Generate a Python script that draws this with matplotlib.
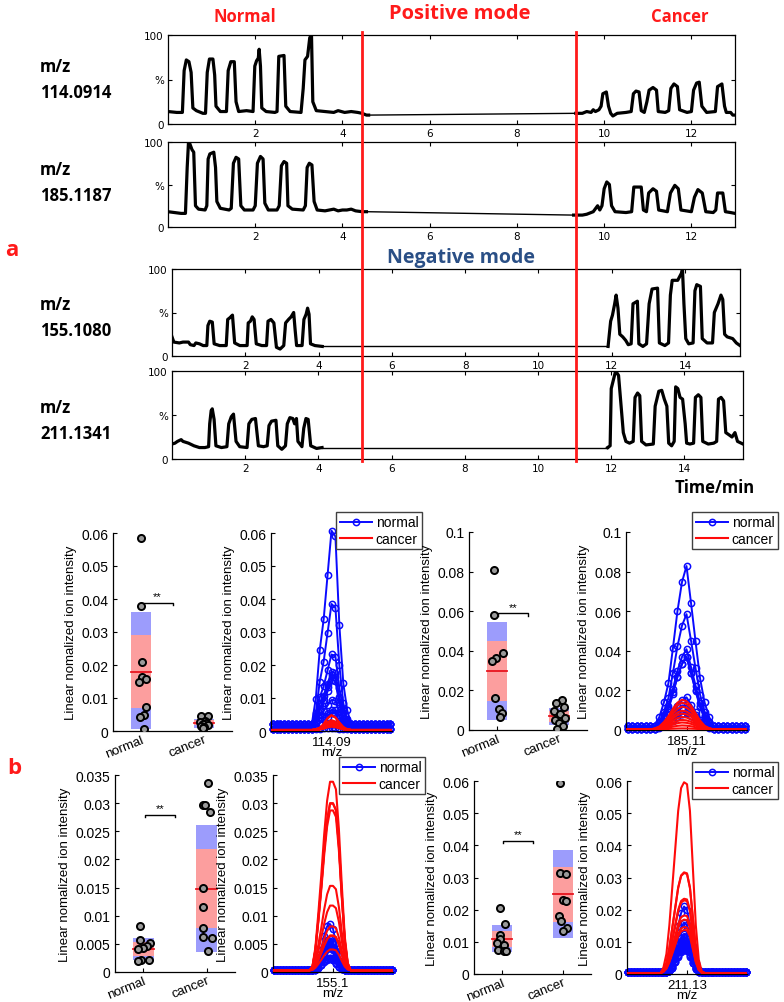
import matplotlib
matplotlib.use('Agg')
import matplotlib.pyplot as plt
import numpy as np
from matplotlib.lines import Line2D

W, H = 784, 1003

# ---- chromatograms, time (min) / relative intensity (%) ----
c114_left_t = [0.0, 0.2, 0.33, 0.37, 0.42, 0.48, 0.53, 0.57, 0.65, 0.8, 0.86, 0.9, 0.95, 1.03, 1.07, 1.1,
               1.2, 1.34, 1.38, 1.44, 1.52, 1.56, 1.62, 1.8, 1.95, 1.99, 2.03, 2.07, 2.09, 2.12, 2.15, 2.25,
               2.45, 2.5, 2.54, 2.66, 2.7, 2.8, 3.05, 3.1, 3.14, 3.2, 3.25, 3.29, 3.32, 3.4, 3.6, 3.8, 3.9,
               4.05, 4.2, 4.35, 4.45, 4.55, 4.6]
c114_left_y = [14, 13, 13, 60, 72, 70, 58, 18, 15, 12, 12, 58, 73, 73, 55, 20,
               14, 14, 60, 70, 70, 25, 14, 15, 14, 65, 71, 74, 84, 65, 18, 14,
               13, 14, 76, 77, 20, 14, 13, 40, 72, 76, 97, 100, 25, 15, 14, 13, 15,
               13, 14, 13, 12, 10, 10]
c114_right_t = [9.35, 9.5, 9.6, 9.7, 9.75, 9.8, 9.88, 9.93, 9.97, 10.05, 10.1, 10.15, 10.2, 10.3, 10.5,
                10.62, 10.67, 10.73, 10.8, 10.85, 10.92, 10.98, 11.03, 11.12, 11.2, 11.24, 11.4, 11.48,
                11.53, 11.6, 11.68, 11.73, 11.9, 12.0, 12.05, 12.12, 12.18, 12.24, 12.35, 12.55, 12.6,
                12.7, 12.76, 12.8, 12.9, 12.95, 13.0]
c114_right_y = [12, 12, 14, 13, 16, 14, 16, 20, 34, 36, 20, 12, 9, 12, 13,
                14, 34, 37, 36, 15, 13, 25, 38, 41, 38, 14, 13, 15,
                40, 45, 42, 16, 13, 14, 38, 46, 47, 20, 13, 14, 42,
                45, 20, 13, 13, 10, 10]

c185_left_t = [0.0, 0.15, 0.3, 0.4, 0.44, 0.47, 0.5, 0.55, 0.59, 0.63, 0.7, 0.85, 0.89, 0.92, 0.96, 1.05,
               1.09, 1.12, 1.2, 1.4, 1.45, 1.5, 1.56, 1.62, 1.67, 1.75, 1.95, 2.0, 2.05, 2.12, 2.18, 2.22,
               2.3, 2.5, 2.55, 2.6, 2.66, 2.72, 2.75, 2.85, 3.1, 3.15, 3.19, 3.24, 3.3, 3.35, 3.42, 3.6,
               3.8, 3.9, 4.0, 4.1, 4.2, 4.3, 4.45, 4.55]
c185_left_y = [18, 17, 16, 16, 70, 100, 98, 91, 88, 25, 21, 20, 25, 80, 86, 88,
               70, 30, 22, 20, 22, 75, 82, 80, 25, 20, 20, 25, 75, 83, 80, 28,
               20, 20, 25, 72, 77, 75, 25, 21, 20, 25, 70, 75, 73, 30, 20, 19,
               21, 19, 20, 20, 21, 19, 18, 18]
c185_right_t = [9.3, 9.5, 9.6, 9.75, 9.85, 9.9, 9.95, 10.0, 10.06, 10.12, 10.17, 10.25, 10.5, 10.63,
                10.68, 10.85, 10.9, 10.97, 11.02, 11.12, 11.2, 11.25, 11.45, 11.52, 11.62, 11.7, 11.76,
                12.0, 12.07, 12.15, 12.25, 12.33, 12.5, 12.56, 12.6, 12.72, 12.78, 12.9, 13.0]
c185_right_y = [14, 14, 15, 18, 25, 20, 25, 45, 53, 50, 25, 18, 17, 18,
                47, 47, 20, 18, 40, 45, 42, 20, 18, 40, 49, 45, 20,
                18, 35, 44, 40, 18, 17, 20, 40, 40, 18, 17, 16]

c155_left_t = [0.0, 0.05, 0.2, 0.3, 0.45, 0.5, 0.6, 0.65, 0.75, 0.85, 0.95, 0.98, 1.03, 1.1, 1.15, 1.3,
               1.48, 1.52, 1.58, 1.65, 1.71, 1.85, 2.05, 2.08, 2.14, 2.19, 2.24, 2.3, 2.45, 2.58, 2.62,
               2.7, 2.78, 2.85, 2.95, 3.05, 3.1, 3.18, 3.25, 3.32, 3.36, 3.4, 3.55, 3.6, 3.66, 3.7, 3.74,
               3.78, 3.9, 4.1]
c155_left_y = [22, 16, 15, 16, 16, 13, 12, 15, 14, 12, 12, 35, 40, 39, 14, 12,
               12, 42, 44, 47, 15, 12, 12, 38, 40, 45, 42, 14, 12, 12, 40,
               42, 38, 10, 8, 12, 38, 42, 45, 50, 30, 12, 12, 42, 48, 55, 48,
               14, 12, 11]
c155_right_t = [11.9, 11.97, 12.02, 12.08, 12.12, 12.17, 12.22, 12.3, 12.38, 12.45, 12.53, 12.58, 12.7,
                12.74, 12.85, 12.95, 13.02, 13.1, 13.25, 13.3, 13.45, 13.55, 13.6, 13.65, 13.8, 13.9,
                13.93, 13.97, 14.02, 14.1, 14.22, 14.27, 14.32, 14.42, 14.47, 14.6, 14.75, 14.8, 14.9,
                14.98, 15.03, 15.08, 15.15, 15.3, 15.4, 15.5]
c155_right_y = [11, 40, 47, 60, 70, 55, 25, 22, 18, 13, 14, 60, 63,
                14, 11, 14, 60, 77, 78, 15, 12, 15, 70, 87, 87, 95,
                100, 60, 20, 14, 15, 75, 82, 80, 20, 15, 15, 50, 60,
                70, 65, 25, 22, 20, 15, 12]

c211_left_t = [0.0, 0.08, 0.15, 0.25, 0.3, 0.45, 0.6, 0.75, 0.9, 1.0, 1.03, 1.07, 1.1, 1.15, 1.2, 1.35,
               1.5, 1.55, 1.62, 1.68, 1.75, 1.85, 2.05, 2.1, 2.18, 2.28, 2.36, 2.5, 2.6, 2.65, 2.72, 2.84,
               2.89, 3.0, 3.1, 3.15, 3.22, 3.3, 3.35, 3.4, 3.44, 3.55, 3.6, 3.66, 3.72, 3.79, 3.95, 4.1]
c211_left_y = [17, 18, 20, 22, 20, 18, 15, 13, 13, 14, 40, 55, 57, 45, 15, 13,
               14, 40, 48, 51, 20, 14, 13, 40, 45, 46, 15, 14, 15, 38, 43, 44,
               15, 11, 15, 40, 47, 46, 40, 46, 20, 14, 35, 46, 45, 15, 12, 13]
c211_right_t = [11.9, 11.97, 12.0, 12.06, 12.12, 12.2, 12.27, 12.33, 12.4, 12.5, 12.6, 12.65, 12.72, 12.78,
                12.83, 12.95, 13.15, 13.2, 13.3, 13.38, 13.45, 13.52, 13.57, 13.65, 13.72, 13.76, 13.82,
                13.88, 13.95, 14.02, 14.06, 14.15, 14.25, 14.3, 14.38, 14.45, 14.5, 14.65, 14.8, 14.88,
                14.93, 15.0, 15.07, 15.13, 15.2, 15.3, 15.38, 15.45, 15.55, 15.6]
c211_right_y = [13, 15, 80, 90, 100, 95, 60, 30, 20, 18, 20, 70, 75, 72,
                20, 16, 17, 60, 77, 78, 68, 60, 18, 15, 20, 82, 80,
                70, 68, 40, 18, 17, 18, 70, 73, 70, 20, 17, 18, 20,
                68, 70, 66, 30, 28, 25, 30, 20, 18, 17]

pos_dividers = [4.45, 9.36]      # minutes, positive-mode time axis
chrom_yticks = [0, 50, 100]
chrom_yticklabels = ['0', '%', '100']

# ---- ion intensity per sample (box plots) ----
groups = ['normal', 'cancer']

n114 = [0.0585, 0.038, 0.021, 0.0165, 0.0158, 0.015, 0.0072, 0.005, 0.0042, 0.0005]
k114 = [0.0045, 0.0044, 0.003, 0.0028, 0.0025, 0.0022, 0.0018, 0.0015, 0.0012, 0.001]
n185 = [0.081, 0.058, 0.039, 0.0365, 0.035, 0.016, 0.0106, 0.0085, 0.0068]
k185 = [0.015, 0.0135, 0.0115, 0.0095, 0.008, 0.0063, 0.0048, 0.0035, 0.002, 0.0005]
n155 = [0.0082, 0.0056, 0.0052, 0.0046, 0.0042, 0.004, 0.0022, 0.0021, 0.002]
k155 = [0.0335, 0.0297, 0.0296, 0.0284, 0.015, 0.0115, 0.0078, 0.0062, 0.0061, 0.0037]
n211 = [0.0205, 0.0155, 0.012, 0.011, 0.0097, 0.009, 0.0076, 0.0073, 0.007]
k211 = [0.0593, 0.0313, 0.0311, 0.0231, 0.0226, 0.0179, 0.0166, 0.0143, 0.0134]

# jitter of the dots
jit_n114 = [0.0, -0.01, 0.02, 0.02, 0.08, -0.03, 0.07, 0.04, -0.02, 0.05]
jit_k114 = [-0.05, 0.07, 0.02, -0.06, 0.04, -0.02, 0.06, -0.04, 0.01, -0.01]
jit_n185 = [-0.05, -0.05, 0.1, -0.02, -0.08, -0.03, 0.03, 0.08, 0.05]
jit_k185 = [0.05, -0.05, 0.08, -0.08, 0.02, 0.09, -0.06, 0.0, 0.06, -0.03]
jit_n155 = [-0.05, -0.05, 0.1, 0.05, 0.0, -0.08, 0.09, -0.04, -0.08]
jit_k155 = [0.03, -0.05, -0.03, 0.05, -0.06, -0.05, -0.06, -0.06, 0.08, 0.03]
jit_n211 = [-0.03, 0.05, -0.03, -0.02, -0.08, 0.03, -0.06, 0.04, 0.07]
jit_k211 = [-0.05, -0.05, 0.05, 0.0, 0.05, -0.07, -0.04, 0.06, -0.01]

# box: low, q1, median, q3, high  (normal, cancer)
box114 = [(0.0005, 0.007, 0.018, 0.029, 0.036), (0.001, 0.0018, 0.0025, 0.0032, 0.0037)]
box185 = [(0.005, 0.0145, 0.030, 0.045, 0.0545), (0.0025, 0.004, 0.007, 0.0095, 0.011)]
box155 = [(0.0022, 0.0028, 0.0041, 0.0053, 0.0061), (0.0035, 0.0079, 0.0148, 0.0219, 0.0261)]
box211 = [(0.0067, 0.0084, 0.011, 0.0133, 0.0152), (0.0111, 0.0162, 0.0248, 0.0333, 0.0385)]

sig_y = [0.0388, 0.059, 0.0279, 0.0414]

# ---- extracted ion peak profiles (scan index, relative height) ----
prof_blue114 = [0] * 11 + [0.13, 0.38, 0.54, 0.77, 1.0, 0.97, 0.51, 0.21, 0.07] + [0] * 11
prof_red114 = [0] * 11 + [0.05, 0.15, 0.4, 0.8, 1.0, 0.85, 0.5, 0.2, 0.05] + [0] * 11
prof_blue185 = [0] * 7 + [0.06, 0.15, 0.27, 0.49, 0.72, 0.9, 1.0, 0.77, 0.53, 0.3, 0.15, 0.06] + [0] * 8
prof_red185 = [0] * 6 + [0.03, 0.1, 0.25, 0.45, 0.7, 0.9, 1.0, 0.95, 0.8, 0.55, 0.3, 0.12, 0.04] + [0] * 8
prof_blue155 = [0] * 14 + [0.05, 0.2, 0.45, 0.75, 0.95, 1.0, 0.9, 0.6, 0.3, 0.1, 0.02] + [0] * 16
prof_red155 = [0] * 13 + [0.02, 0.12, 0.3, 0.5, 0.72, 0.9, 1.0, 1.0, 0.96, 0.75, 0.45, 0.18, 0.04] + [0] * 15
prof_blue211 = [0] * 14 + [0.05, 0.2, 0.45, 0.7, 0.9, 1.0, 0.95, 0.7, 0.4, 0.15, 0.03] + [0] * 16
prof_red211 = [0] * 12 + [0.03, 0.1, 0.25, 0.45, 0.65, 0.85, 0.97, 1.0, 0.99, 0.85, 0.55, 0.25, 0.07, 0.01] + [0] * 15

base_blue114 = [0.0022, 0.0005, 0.0022, 0.0005, 0.0022, 0.0005, 0.0022, 0.0005, 0.0022, 0.0005]
base_blue185 = [0.0018, 0.0005, 0.0018, 0.0005, 0.0018, 0.0005, 0.0018, 0.0005, 0.0018]
base_blue155 = [0.0003] * 9
base_blue211 = [0.0005] * 9
base_red = 0.0003

peak_labels = ['114.09', '185.11', '155.1', '211.13']
ylims = [0.06, 0.1, 0.035, 0.06]
ysteps = [0.01, 0.02, 0.005, 0.01]

BOLD = ['Open Sans', 'DejaVu Sans']
ARIAL = ['Liberation Sans', 'DejaVu Sans']

fig = plt.figure(figsize=(W / 100, H / 100), dpi=100)


def px_axes(x0, y0, x1, y1):
    return fig.add_axes([x0 / W, 1 - y1 / H, (x1 - x0) / W, (y1 - y0) / H])


def ftext(x, y, s, **kw):
    fig.text(x / W, 1 - y / H, s, **kw)


def draw_chrom(ax, lt, ly, rt, ry, xmax):
    ax.plot(lt, ly, color='black', lw=2.3, solid_joinstyle='round')
    ax.plot(rt, ry, color='black', lw=2.3, solid_joinstyle='round')
    ax.plot([lt[-1], rt[0]], [ly[-1], ry[0]], color='black', lw=1.0)
    ax.set_xlim(0, xmax)
    ax.set_ylim(0, 100)
    ax.set_xticks(np.arange(2, xmax, 2))
    ax.set_yticks(chrom_yticks)
    ax.set_yticklabels(chrom_yticklabels)
    ax.tick_params(direction='in', top=True, right=True, length=3, width=0.8,
                   labelsize=7.5, pad=3)
    for sp in ax.spines.values():
        sp.set_linewidth(0.9)


ax1 = px_axes(168, 36, 735, 125)
draw_chrom(ax1, c114_left_t, c114_left_y, c114_right_t, c114_right_y, 13)
ax2 = px_axes(168, 143, 735, 228)
draw_chrom(ax2, c185_left_t, c185_left_y, c185_right_t, c185_right_y, 13)
ax3 = px_axes(172, 270, 740, 357)
draw_chrom(ax3, c155_left_t, c155_left_y, c155_right_t, c155_right_y, 15.5)
ax4 = px_axes(172, 372, 743, 460)
draw_chrom(ax4, c211_left_t, c211_left_y, c211_right_t, c211_right_y, 15.6)

# red separators, placed through the time axis of the first trace
for t in pos_dividers:
    xd = ax1.transData.transform((t, 0))[0]
    fx = fig.transFigure.inverted().transform((xd, 0))[0]
    fig.add_artist(Line2D([fx, fx], [1 - 33 / H, 1 - 462 / H], color='#ff1a1a', lw=2))

ftext(245, 17, 'Normal', color='#ff1a1a', fontsize=12, fontweight='bold', family=BOLD, ha='center', va='center')
ftext(460, 14, 'Positive mode', color='#ff1a1a', fontsize=14.5, fontweight='bold', family=BOLD, ha='center', va='center')
ftext(680, 17, 'Cancer', color='#ff1a1a', fontsize=12, fontweight='bold', family=BOLD, ha='center', va='center')
ftext(461, 258, 'Negative mode', color='#2a4f86', fontsize=14, fontweight='bold', family=BOLD, ha='center', va='center')
ftext(715, 488, 'Time/min', color='black', fontsize=12, fontweight='bold', family=BOLD, ha='center', va='center')
ftext(12, 250, 'a', color='#ff1a1a', fontsize=16, fontweight='bold', family=BOLD, ha='center', va='center')
ftext(14, 768, 'b', color='#ff1a1a', fontsize=16, fontweight='bold', family=BOLD, ha='center', va='center')
for yy, mz in [(80, '114.0914'), (183, '185.1187'), (318, '155.1080'), (421, '211.1341')]:
    ftext(40, yy, 'm/z\n' + mz, color='black', fontsize=12, fontweight='bold', family=BOLD,
          ha='left', va='center', linespacing=1.6)


def style_lower(ax, ymax, step, xpad):
    ax.set_ylim(0, ymax)
    ticks = np.round(np.arange(0, ymax + step / 2, step), 4)
    ax.set_yticks(ticks)
    ax.set_yticklabels(['%g' % v for v in ticks], family=ARIAL, fontsize=10)
    ax.spines['top'].set_visible(False)
    ax.spines['right'].set_visible(False)
    for sp in ['left', 'bottom']:
        ax.spines[sp].set_linewidth(0.9)
    ax.tick_params(direction='in', length=3, width=0.8)
    ax.tick_params(axis='x', pad=xpad)
    ax.set_ylabel('Linear nomalized ion intensity', family=ARIAL, fontsize=9.5, labelpad=3)


def draw_box(ax, boxes, pts, jits, sy, ymax, step):
    for i, (b, p, j) in enumerate(zip(boxes, pts, jits)):
        pos = i + 1
        lo, q1, med, q3, hi = b
        ax.bar(pos, hi - lo, bottom=lo, width=0.32, color='#9c9cfc', lw=0, zorder=1)
        ax.bar(pos, q3 - q1, bottom=q1, width=0.32, color='#fc9e9e', lw=0, zorder=1.5)
        ax.plot([pos - 0.16, pos + 0.16], [med, med], color='#e8141e', lw=1.3, zorder=2)
        ax.scatter(pos + np.array(j), p, s=26, facecolor='#9a9a9a', edgecolor='black',
                   linewidth=1.4, zorder=3)
    d = ymax * 0.012
    ax.plot([1.02, 1.02, 1.5, 1.5], [sy - d, sy, sy, sy - d], color='black', lw=1)
    ax.text(1.26, sy + d * 0.6, '**', ha='center', va='bottom', fontsize=8, family=ARIAL)
    ax.set_xlim(0.55, 2.45)
    ax.set_xticks([1, 2])
    style_lower(ax, ymax, step, 1.5)
    ax.set_xticklabels(groups, rotation=22, ha='right', rotation_mode='anchor',
                       family=ARIAL, fontsize=9.5)


def draw_peaks(ax, prof_b, prof_r, hb, hr, bases, label, ymax, step, leg_anchor):
    x = np.arange(len(prof_b))
    pb = np.array(prof_b)
    pr = np.array(prof_r)
    hl = None
    for h, b in zip(hb, bases):
        l, = ax.plot(x, b + h * pb, color='#0a0aff', lw=1.4, marker='o', ms=4.5,
                     mfc='none', mew=1.1, clip_on=False, zorder=2)
        hl = hl or l
    rl = None
    for h in hr:
        l, = ax.plot(x, base_red + h * pr, color='#ff0a0a', lw=1.5, zorder=3)
        rl = rl or l
    ax.set_xlim(-0.4, len(x) - 0.6)
    ax.set_xticks([(len(x) - 1) / 2])
    style_lower(ax, ymax, step, 3.5)
    ax.set_xticklabels([label], family=ARIAL, fontsize=9.5)
    ax.set_xlabel('m/z', family=ARIAL, fontsize=9.5, labelpad=-1)
    ax.legend([hl, rl], groups, loc='upper right', bbox_to_anchor=leg_anchor,
              bbox_transform=fig.transFigure, fancybox=False, edgecolor='#404040',
              framealpha=1, prop={'family': ARIAL, 'size': 10}, handlelength=2.3,
              borderpad=0.25, labelspacing=0.15, handletextpad=0.3, borderaxespad=0)


bx1 = px_axes(113, 534, 232, 732)
draw_box(bx1, box114, [n114, k114], [jit_n114, jit_k114], sig_y[0], ylims[0], ysteps[0])
pk1 = px_axes(271, 534, 392, 732)
draw_peaks(pk1, prof_blue114, prof_red114, n114, k114, base_blue114, peak_labels[0],
           ylims[0], ysteps[0], (422 / W, 1 - 513 / H))

bx2 = px_axes(469, 533, 587, 731)
draw_box(bx2, box185, [n185, k185], [jit_n185, jit_k185], sig_y[1], ylims[1], ysteps[1])
pk2 = px_axes(626, 533, 747, 731)
draw_peaks(pk2, prof_blue185, prof_red185, n185, k185, base_blue185, peak_labels[1],
           ylims[1], ysteps[1], (778 / W, 1 - 513 / H))

bx3 = px_axes(115, 776, 235, 973)
draw_box(bx3, box155, [n155, k155], [jit_n155, jit_k155], sig_y[2], ylims[2], ysteps[2])
pk3 = px_axes(273, 776, 393, 973)
draw_peaks(pk3, prof_blue155, prof_red155, n155, k155, base_blue155, peak_labels[2],
           ylims[2], ysteps[2], (425 / W, 1 - 758 / H))

bx4 = px_axes(474, 782, 591, 975)
draw_box(bx4, box211, [n211, k211], [jit_n211, jit_k211], sig_y[3], ylims[3], ysteps[3])
pk4 = px_axes(627, 782, 747, 975)
draw_peaks(pk4, prof_blue211, prof_red211, n211, k211, base_blue211, peak_labels[3],
           ylims[3], ysteps[3], (778 / W, 1 - 763 / H))

fig.savefig('out.png', dpi=100)
